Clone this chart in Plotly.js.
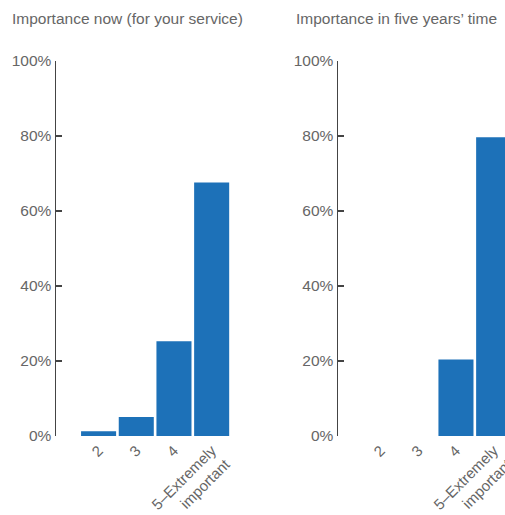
<!DOCTYPE html>
<html>
<head>
<meta charset="utf-8">
<script src="https://cdn.plot.ly/plotly-3.0.1.min.js"></script>
<style>
html,body{margin:0;padding:0;overflow:hidden;background:#fff;}
#chart{width:535px;height:515px;}
</style>
</head>
<body>
<div id="chart"></div>
<script>
const categories = ["2", "3", "4", "5–Extremely<br>important"];
const nowValues = [1.3, 5.1, 25.3, 67.6];
const fiveYearValues = [null, null, 20.4, 79.7];
const yTickVals = [0, 20, 40, 60, 80, 100];
const yTickText = ["0%", "20%", "40%", "60%", "80%", "100%"];
const titles = ["Importance now (for your service)", "Importance in five years’ time"];

const W = 535, H = 515;
const barColor = "#1d71b8";
const fontFam = "Liberation Sans, Arial, sans-serif";

const traces = [
  {type: "bar", x: categories, y: nowValues, xaxis: "x", yaxis: "y", marker: {color: barColor}, hoverinfo: "none"},
  {type: "bar", x: categories, y: fiveYearValues, xaxis: "x2", yaxis: "y2", marker: {color: barColor}, hoverinfo: "none"}
];

function xAxis(d0, d1, anchor) {
  return {
    domain: [d0 / W, d1 / W], anchor: anchor,
    type: "category", range: [-1.13, 3.5],
    showline: false, ticks: "", showgrid: false, zeroline: false,
    tickangle: -45, ticklabelstandoff: 2,
    tickfont: {family: fontFam, size: 15, color: "#666"}
  };
}
function yAxis(anchor) {
  return {
    anchor: anchor, range: [0, 100], tickvals: yTickVals, ticktext: yTickText,
    showline: true, linecolor: "#444", linewidth: 1.5,
    ticks: "inside", ticklen: 6, tickcolor: "#444", tickwidth: 1.5,
    showgrid: false, zeroline: false,
    tickfont: {family: fontFam, size: 15.5, color: "#666"}, fixedrange: true
  };
}

const plotH = H - 61 - 79;
const titleY = 1 + (61 - 19) / plotH;

const layout = {
  width: W, height: H,
  margin: {l: 0, r: 0, t: 61, b: 79},
  paper_bgcolor: "#fff", plot_bgcolor: "#fff",
  showlegend: false, bargap: 0.07,
  xaxis: xAxis(56, 230.5, "y"),
  yaxis: yAxis("x"),
  xaxis2: xAxis(338, 512.5, "y2"),
  yaxis2: yAxis("x2"),
  annotations: [
    {text: titles[0], xref: "paper", yref: "paper", x: 10 / W, y: titleY, showarrow: false, xanchor: "left", yanchor: "middle",
     font: {family: fontFam, size: 15.5, color: "#666"}},
    {text: titles[1], xref: "paper", yref: "paper", x: 294 / W, y: titleY, showarrow: false, xanchor: "left", yanchor: "middle",
     font: {family: fontFam, size: 15.5, color: "#666"}}
  ]
};

Plotly.newPlot("chart", traces, layout, {displayModeBar: false, staticPlot: true});
</script>
</body>
</html>
